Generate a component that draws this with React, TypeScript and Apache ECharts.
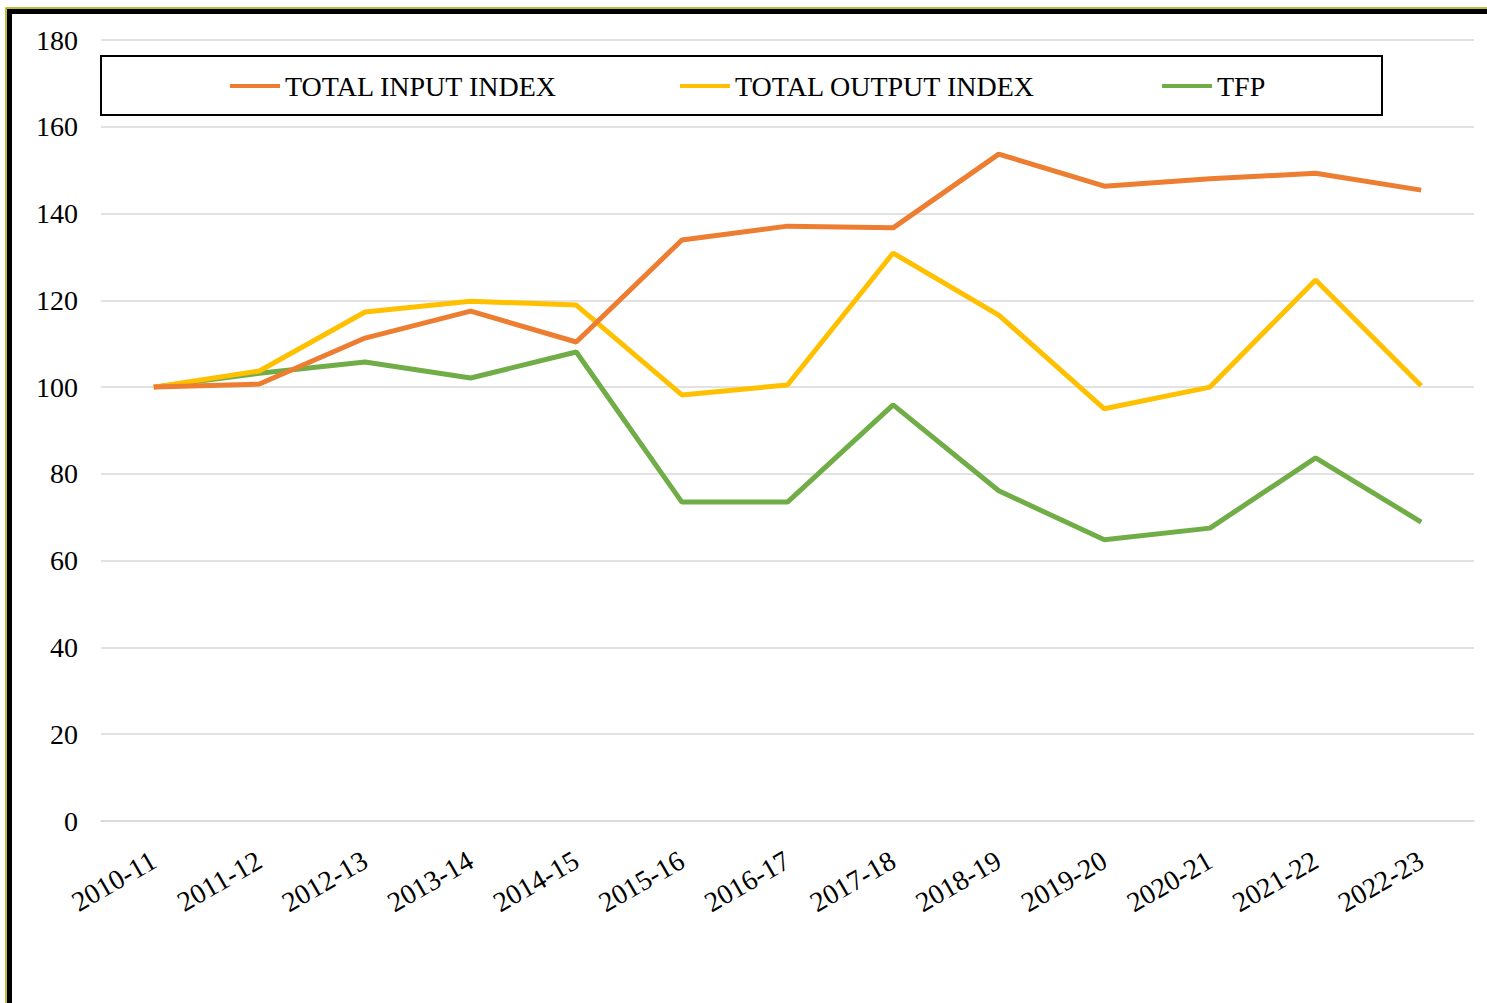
import React, { useEffect, useRef } from "react";
import * as echarts from "echarts";

const categories = ["2010-11","2011-12","2012-13","2013-14","2014-15","2015-16","2016-17","2017-18","2018-19","2019-20","2020-21","2021-22","2022-23"];
const totalInput = [100, 100.7, 111.3, 117.5, 110.4, 133.9, 137.1, 136.7, 153.7, 146.3, 148.0, 149.3, 145.4];
const totalOutput = [100, 103.7, 117.3, 119.8, 118.9, 98.2, 100.5, 130.9, 116.6, 95.0, 100.0, 124.7, 100.3];
const tfp = [100, 103.2, 105.8, 102.1, 108.1, 73.5, 73.5, 95.9, 76.1, 64.8, 67.5, 83.7, 68.9];
const seriesNames = ["TOTAL INPUT INDEX", "TOTAL OUTPUT INDEX", "TFP"];
const colors = ["#ED7D31", "#FFC000", "#70AD47"];

const FONT = "'Liberation Serif', 'Times New Roman', serif";

export default function App() {
  const ref = useRef<HTMLDivElement>(null);
  useEffect(() => {
    document.body.style.margin = "0";
    const chart = echarts.init(ref.current!, null, { renderer: "svg" });
    const data = [totalInput, totalOutput, tfp];
    const legendLefts = [230, 680, 1162];
    chart.setOption({
      animation: false,
      backgroundColor: "#ffffff",
      textStyle: { fontFamily: FONT },
      grid: { left: 101, right: 13, top: 40, bottom: 182 },
      graphic: [
        { type: "rect", silent: true, z: 100, shape: { x: 6, y: 8, width: 2000, height: 2000 }, style: { fill: "none", stroke: "#a8a800", lineWidth: 1.5 } },
        { type: "rect", silent: true, z: 101, shape: { x: 9.5, y: 11.5, width: 2000, height: 2000 }, style: { fill: "none", stroke: "#000000", lineWidth: 5 } },
        { type: "rect", silent: true, z: 1, shape: { x: 101, y: 56, width: 1281, height: 59 }, style: { fill: "#ffffff", stroke: "#000000", lineWidth: 2 } },
      ],
      legend: seriesNames.map((n, i) => ({
        data: [n],
        left: legendLefts[i],
        top: 72,
        padding: 0,
        icon: "rect",
        itemWidth: 50,
        itemHeight: 4,
        itemGap: 5,
        z: 5,
        textStyle: { fontFamily: FONT, fontSize: 28, color: "#000" },
      })),
      xAxis: {
        type: "category",
        data: categories,
        boundaryGap: true,
        axisLine: { lineStyle: { color: "#d9d9d9", width: 1.5 } },
        axisTick: { show: false },
        axisLabel: { rotate: 30, fontFamily: FONT, fontSize: 28, color: "#000", margin: 37, interval: 0 },
      },
      yAxis: {
        type: "value",
        min: 0,
        max: 180,
        interval: 20,
        axisLine: { show: false },
        axisTick: { show: false },
        splitLine: { lineStyle: { color: "#d9d9d9", width: 1.5 } },
        axisLabel: { fontFamily: FONT, fontSize: 28, color: "#000", margin: 23 },
      },
      series: seriesNames.map((n, i) => ({
        name: n,
        type: "line",
        data: data[i],
        symbol: "none",
        lineStyle: { color: colors[i], width: 5 },
        itemStyle: { color: colors[i] },
        z: 3 - i,
      })),
    });
    return () => chart.dispose();
  }, []);
  return <div ref={ref} style={{ width: 1487, height: 1003 }} />;
}
